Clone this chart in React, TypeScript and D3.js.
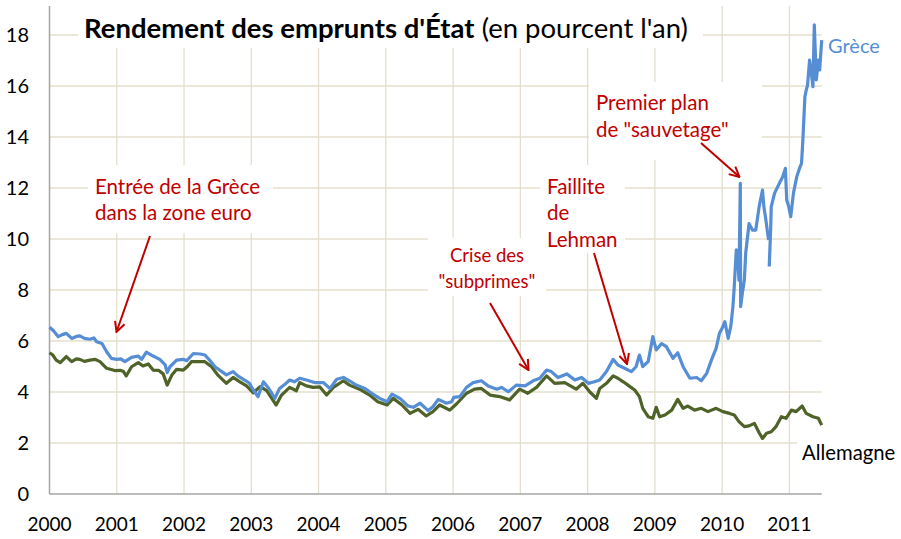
import React from 'react';
import * as d3 from 'd3';

const yearTicks = [2000, 2001, 2002, 2003, 2004, 2005, 2006, 2007, 2008, 2009, 2010, 2011];
const yTicks = [0, 2, 4, 6, 8, 10, 12, 14, 16, 18];

const greeceDates = [
  2000.00, 2000.06, 2000.13, 2000.19, 2000.25, 2000.33, 2000.40, 2000.45, 2000.52, 2000.60, 2000.66, 2000.70, 2000.78, 2000.85, 2000.92,
  2001.00, 2001.06, 2001.12, 2001.22, 2001.32, 2001.37, 2001.44, 2001.54, 2001.64, 2001.72, 2001.75, 2001.79, 2001.89, 2001.99,
  2002.04, 2002.14, 2002.24, 2002.31, 2002.38, 2002.46, 2002.53, 2002.63, 2002.73, 2002.80, 2002.90, 2002.97,
  2003.03, 2003.10, 2003.18, 2003.25, 2003.35, 2003.42, 2003.50, 2003.57, 2003.64, 2003.72, 2003.82, 2003.94,
  2004.07, 2004.17, 2004.27, 2004.37, 2004.46, 2004.56, 2004.69, 2004.79, 2004.91,
  2005.02, 2005.09, 2005.21, 2005.33, 2005.41, 2005.51, 2005.63, 2005.70, 2005.78, 2005.90, 2005.98,
  2006.01, 2006.10, 2006.20, 2006.30, 2006.42, 2006.52, 2006.65, 2006.72, 2006.82, 2006.94,
  2007.07, 2007.19, 2007.29, 2007.39, 2007.46, 2007.56, 2007.69, 2007.81, 2007.91,
  2008.01, 2008.10, 2008.18, 2008.28, 2008.38, 2008.45, 2008.55, 2008.65, 2008.72, 2008.77, 2008.82, 2008.90, 2008.97,
  2009.02, 2009.10, 2009.17, 2009.27, 2009.34, 2009.42, 2009.52, 2009.62, 2009.69, 2009.77, 2009.84, 2009.91, 2009.96,
  2010.00, 2010.04, 2010.09, 2010.13, 2010.16, 2010.18, 2010.21, 2010.23, 2010.25, 2010.27, 2010.275, 2010.30, 2010.33, 2010.35,
  2010.40, 2010.45, 2010.50, 2010.55, 2010.60, 2010.62, 2010.65, 2010.69, 2010.695, 2010.70, 2010.72, 2010.73, 2010.78, 2010.85, 2010.90, 2010.94, 2010.96, 2010.99,
  2011.02, 2011.06, 2011.11, 2011.16, 2011.18, 2011.20, 2011.23, 2011.25, 2011.27, 2011.30, 2011.32, 2011.35, 2011.37, 2011.40, 2011.43, 2011.45, 2011.48,
];
const greeceYields: (number | null)[] = [
  6.54, 6.40, 6.17, 6.25, 6.30, 6.10, 6.18, 6.20, 6.10, 6.07, 6.12, 5.97, 5.90, 5.58, 5.32,
  5.28, 5.30, 5.19, 5.36, 5.41, 5.28, 5.56, 5.41, 5.28, 5.06, 4.76, 4.99, 5.25, 5.28,
  5.23, 5.51, 5.49, 5.45, 5.25, 4.99, 4.86, 4.67, 4.80, 4.63, 4.47, 4.35,
  4.08, 3.82, 4.40, 4.18, 3.75, 4.14, 4.30, 4.47, 4.40, 4.54, 4.47, 4.37,
  4.37, 4.14, 4.50, 4.57, 4.44, 4.27, 4.14, 3.95, 3.75,
  3.62, 3.92, 3.75, 3.45, 3.40, 3.56, 3.27, 3.42, 3.71, 3.56, 3.62,
  3.79, 3.82, 4.18, 4.37, 4.44, 4.24, 4.11, 4.18, 4.01, 4.27,
  4.24, 4.44, 4.54, 4.86, 4.80, 4.57, 4.71, 4.47, 4.57,
  4.34, 4.40, 4.47, 4.80, 5.28, 5.06, 4.93, 4.80, 4.99, 5.45, 5.00, 5.19, 6.17,
  5.65, 5.90, 5.78, 5.32, 5.54, 4.99, 4.54, 4.57, 4.44, 4.73, 5.25, 5.71, 6.30,
  6.50, 6.76, 6.10, 6.60, 7.35, 8.13, 9.57, 9.44, 8.39, 12.18, 7.35, 7.87, 8.39, 9.44,
  10.60, 10.35, 10.35, 11.27, 11.92, 11.27, 10.75, 9.96, null, 8.92, 10.30, 11.27, 11.80, 12.18, 12.44, 12.77, 11.53, 11.27,
  10.88, 11.80, 12.45, 12.84, 12.97, 13.88, 15.58, 15.84, 16.04, 17.02, 16.63, 15.97, 18.40, 16.24, 17.02, 16.63, 17.80,
];

const germanyDates = [
  2000.00, 2000.05, 2000.10, 2000.16, 2000.25, 2000.33, 2000.40, 2000.45, 2000.52, 2000.60, 2000.68, 2000.75, 2000.85, 2000.97,
  2001.05, 2001.10, 2001.14, 2001.22, 2001.32, 2001.39, 2001.47, 2001.54, 2001.62, 2001.69, 2001.75, 2001.82, 2001.89, 2001.99,
  2002.05, 2002.11, 2002.24, 2002.31, 2002.41, 2002.50, 2002.63, 2002.73, 2002.83, 2002.93,
  2003.03, 2003.13, 2003.23, 2003.37, 2003.45, 2003.57, 2003.67, 2003.72, 2003.82, 2003.92,
  2004.02, 2004.12, 2004.22, 2004.37, 2004.46, 2004.61, 2004.76, 2004.88,
  2005.02, 2005.11, 2005.24, 2005.36, 2005.48, 2005.60, 2005.70, 2005.80, 2005.95,
  2006.05, 2006.20, 2006.32, 2006.42, 2006.55, 2006.69, 2006.84, 2006.99,
  2007.11, 2007.24, 2007.39, 2007.51, 2007.66, 2007.83, 2007.93,
  2008.03, 2008.13, 2008.18, 2008.28, 2008.38, 2008.45, 2008.53, 2008.63, 2008.70, 2008.77, 2008.82, 2008.90, 2008.97,
  2009.02, 2009.07, 2009.15, 2009.25, 2009.34, 2009.42, 2009.49, 2009.59, 2009.69, 2009.79, 2009.91,
  2010.01, 2010.11, 2010.18, 2010.25, 2010.33, 2010.40, 2010.48, 2010.55, 2010.60, 2010.66, 2010.73, 2010.80, 2010.88, 2010.95,
  2011.03, 2011.10, 2011.19, 2011.25, 2011.35, 2011.43, 2011.48,
];
const germanyYields = [
  5.54, 5.45, 5.25, 5.15, 5.39, 5.19, 5.30, 5.28, 5.20, 5.25, 5.28, 5.19, 4.93, 4.84,
  4.85, 4.80, 4.63, 4.99, 5.15, 5.02, 5.10, 4.86, 4.85, 4.71, 4.27, 4.67, 4.89, 4.86,
  5.00, 5.19, 5.19, 5.19, 4.99, 4.67, 4.34, 4.57, 4.40, 4.24,
  3.97, 4.21, 4.05, 3.49, 3.88, 4.18, 4.05, 4.37, 4.24, 4.18,
  4.20, 3.88, 4.18, 4.44, 4.27, 4.11, 3.88, 3.62,
  3.49, 3.75, 3.49, 3.16, 3.32, 3.06, 3.23, 3.49, 3.29,
  3.53, 3.95, 4.11, 4.14, 3.88, 3.82, 3.69, 4.11,
  3.95, 4.18, 4.63, 4.34, 4.37, 4.11, 4.34,
  4.01, 3.75, 4.14, 4.34, 4.63, 4.54, 4.40, 4.21, 4.08, 3.82, 3.36, 3.03, 2.97,
  3.40, 3.03, 3.10, 3.29, 3.71, 3.36, 3.45, 3.29, 3.36, 3.23, 3.36,
  3.23, 3.16, 3.10, 2.84, 2.64, 2.67, 2.77, 2.40, 2.18, 2.38, 2.44, 2.64, 3.03, 2.97,
  3.29, 3.23, 3.45, 3.16, 3.03, 2.97, 2.70,
];

const titleBold = "Rendement des emprunts d'État";
const titleRest = " (en pourcent l'an)";
const seriesNames = ['Grèce', 'Allemagne'];

const FONT = 'Lato, "Noto Sans", sans-serif';
const RED = '#c00000';
const GRID = '#e4dfcc';

export default function App() {
  const x = d3.scaleLinear().domain([2000, 2011.48]).range([49.5, 821.7]);
  const y = d3.scaleLinear().domain([0, 18]).range([494, 35]);
  const line = d3
    .line<[number, number | null]>()
    .defined((d) => d[1] != null)
    .x((d) => x(d[0]))
    .y((d) => y(d[1] as number));

  const greece = greeceDates.map((t, i) => [t, greeceYields[i]] as [number, number | null]);
  const germany = germanyDates.map((t, i) => [t, germanyYields[i]] as [number, number | null]);

  const left = x(2000);
  const right = x(2011.48);
  const top = 6;

  const boxes = [
    { x: 78, y: 0, w: 625, h: 48 },
    { x: 88, y: 165, w: 185, h: 68 },
    { x: 428, y: 238, w: 118, h: 58 },
    { x: 540, y: 165, w: 85, h: 88 },
    { x: 589, y: 82, w: 173, h: 78 },
    { x: 824, y: 30, w: 70, h: 30 },
    { x: 797, y: 436, w: 104, h: 30 },
  ];

  const arrows = [
    { x1: 150, y1: 236, x2: 116.5, y2: 332 },
    { x1: 490, y1: 303, x2: 528.5, y2: 370 },
    { x1: 594, y1: 253, x2: 627, y2: 364 },
    { x1: 701, y1: 143, x2: 739.5, y2: 177 },
  ];

  return (
    <div style={{ position: 'absolute', left: 0, top: 0 }}>
      <svg width={901} height={539} style={{ display: 'block', background: '#fff' }}>
        <defs>
          <marker id="arr" viewBox="0 0 12 12" refX="11" refY="6" markerWidth="12" markerHeight="12" markerUnits="userSpaceOnUse" orient="auto">
            <path d="M1,1 L11,6 L1,11" fill="none" stroke={RED} strokeWidth={2} />
          </marker>
        </defs>
        {yTicks.filter((v) => v > 0).map((v) => (
          <line key={'h' + v} x1={left} x2={right} y1={y(v)} y2={y(v)} stroke={GRID} strokeWidth={1.3} />
        ))}
        {yearTicks.filter((t) => t > 2000).map((t) => (
          <line key={'v' + t} x1={x(t)} x2={x(t)} y1={top} y2={494} stroke={GRID} strokeWidth={1.3} />
        ))}
        {boxes.map((b, i) => (
          <rect key={'b' + i} x={b.x} y={b.y} width={b.w} height={b.h} fill="#fff" />
        ))}
        <line x1={left} x2={left} y1={top} y2={494} stroke="#a6a6a6" strokeWidth={1.5} />
        <line x1={left} x2={right} y1={494} y2={494} stroke="#a6a6a6" strokeWidth={1.5} />
        {yTicks.map((v) => (
          <text key={'yl' + v} x={29} y={y(v) + 7} textAnchor="end" fontFamily={FONT} fontSize={20} fill="#000">
            {v}
          </text>
        ))}
        {yearTicks.map((t) => (
          <text key={'xl' + t} x={x(t)} y={531} textAnchor="middle" fontFamily={FONT} fontSize={19} fill="#000">
            {t}
          </text>
        ))}
        <path d={line(germany) || ''} fill="none" stroke="#4f6228" strokeWidth={3.2} strokeLinejoin="round" />
        <path d={line(greece) || ''} fill="none" stroke="#558ed5" strokeWidth={3.2} strokeLinejoin="round" />
        <text x={84} y={38} fontFamily={FONT} fontSize={27.5} fill="#000">
          <tspan fontWeight="bold">{titleBold}</tspan>
          <tspan>{titleRest}</tspan>
        </text>
        <text x={828} y={53} fontFamily={FONT} fontSize={20} fill="#558ed5">{seriesNames[0]}</text>
        <text x={802} y={460} fontFamily={FONT} fontSize={20.3} fill="#000">{seriesNames[1]}</text>
        <text fontFamily={FONT} fontSize={20.5} fill={RED}>
          <tspan x={95} y={194}>Entrée de la Grèce</tspan>
          <tspan x={95} y={220}>dans la zone euro</tspan>
        </text>
        <text fontFamily={FONT} fontSize={18.5} fill={RED} textAnchor="middle">
          <tspan x={487} y={262}>Crise des</tspan>
          <tspan x={487} y={288}>"subprimes"</tspan>
        </text>
        <text fontFamily={FONT} fontSize={20.5} fill={RED}>
          <tspan x={547} y={194}>Faillite</tspan>
          <tspan x={547} y={220}>de</tspan>
          <tspan x={547} y={247}>Lehman</tspan>
        </text>
        <text fontFamily={FONT} fontSize={20.5} fill={RED}>
          <tspan x={596} y={110}>Premier plan</tspan>
          <tspan x={596} y={137}>de "sauvetage"</tspan>
        </text>
        {arrows.map((a, i) => (
          <line key={'a' + i} x1={a.x1} y1={a.y1} x2={a.x2} y2={a.y2} stroke={RED} strokeWidth={2} markerEnd="url(#arr)" />
        ))}
      </svg>
    </div>
  );
}
